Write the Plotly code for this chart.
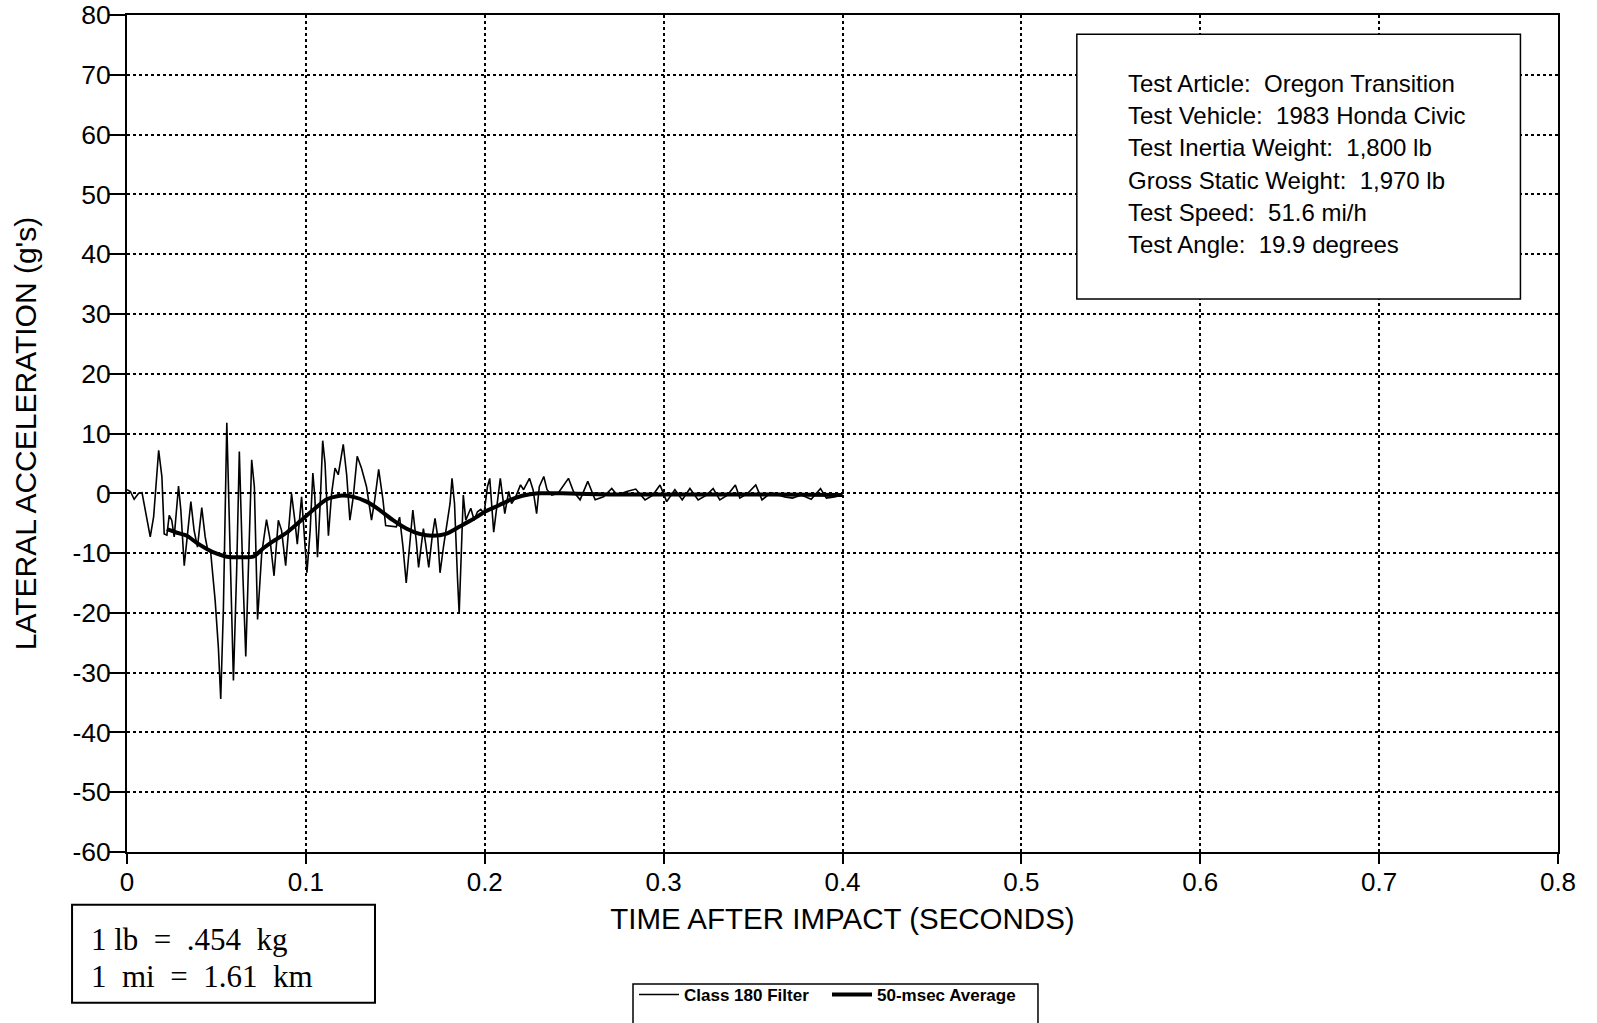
import plotly.graph_objects as go

# ---------------- data ----------------
filter_t = [0.0000, 0.0019, 0.0040, 0.0065, 0.0084, 0.0112, 0.0130, 0.0149, 0.0177, 0.0195,
            0.0208, 0.0223, 0.0236, 0.0250, 0.0264, 0.0288, 0.0301, 0.0320, 0.0335, 0.0357,
            0.0375, 0.0394, 0.0418, 0.0437, 0.0450, 0.0468, 0.0493, 0.0511, 0.0524, 0.0539,
            0.0558, 0.0576, 0.0595, 0.0613, 0.0628, 0.0647, 0.0664, 0.0680, 0.0697, 0.0712,
            0.0730, 0.0753, 0.0780, 0.0799, 0.0822, 0.0846, 0.0864, 0.0887, 0.0920, 0.0938,
            0.0952, 0.0976, 0.1006, 0.1024, 0.1039, 0.1050, 0.1065, 0.1080, 0.1094, 0.1107,
            0.1126, 0.1144, 0.1163, 0.1181, 0.1209, 0.1228, 0.1246, 0.1265, 0.1287, 0.1311,
            0.1339, 0.1367, 0.1385, 0.1407, 0.1431, 0.1446, 0.1469, 0.1506, 0.1524, 0.1543,
            0.1561, 0.1580, 0.1598, 0.1617, 0.1630, 0.1644, 0.1657, 0.1670, 0.1687, 0.1706,
            0.1722, 0.1737, 0.1750, 0.1769, 0.1787, 0.1806, 0.1817, 0.1831, 0.1848, 0.1857,
            0.1872, 0.1880, 0.1894, 0.1922, 0.1941, 0.1959, 0.1978, 0.1996, 0.2015, 0.2028,
            0.2050, 0.2087, 0.2112, 0.2134, 0.2150, 0.2170, 0.2200, 0.2217, 0.2250, 0.2270,
            0.2290, 0.2305, 0.2330, 0.2348, 0.2375, 0.2410, 0.2468, 0.2496, 0.2533, 0.2576,
            0.2617, 0.2664, 0.2710, 0.2740, 0.2794, 0.2844, 0.2896, 0.2940, 0.2980, 0.3017,
            0.3063, 0.3104, 0.3147, 0.3193, 0.3240, 0.3277, 0.3314, 0.3357, 0.3401, 0.3426,
            0.3470, 0.3515, 0.3550, 0.3600, 0.3677, 0.3720, 0.3770, 0.3825, 0.3877, 0.3910,
            0.3955, 0.4000]
filter_g = [0.6, 0.3, -1.0, 0.0, 0.1, -4.5, -7.3, -3.9, 7.2, 2.8,
            -6.8, -7.0, -3.7, -4.5, -7.3, 1.2, -2.8, -12.1, -7.9, -1.4,
            -6.2, -9.0, -2.4, -7.3, -9.3, -9.9, -18.0, -25.9, -34.4, -19.2,
            11.8, -10.1, -31.3, -13.0, 7.0, -13.0, -27.3, -11.3, 5.6, 1.1,
            -21.1, -10.1, -4.4, -7.6, -13.8, -4.5, -6.2, -12.1, -0.1, -4.5,
            -8.5, -0.6, -13.3, -6.2, 3.4, -0.6, -10.7, -1.7, 8.8, 5.1,
            -7.1, 0.0, 4.2, 3.1, 8.2, 3.1, -4.5, -0.6, 6.2, 4.2,
            1.1, -4.5, -1.1, 4.0, -1.1, -5.4, -5.5, -5.6, -4.0, -9.0,
            -15.0, -9.0, -2.8, -7.9, -12.4, -9.0, -5.9, -8.5, -12.4, -7.3,
            -4.2, -7.3, -13.3, -9.0, -5.6, -1.7, 2.5, -1.7, -14.4, -20.1,
            -7.3, -0.3, -4.5, -2.5, -4.5, -3.1, -2.7, -3.4, 1.1, 2.5,
            -6.5, 2.5, -3.4, 0.3, -1.7, -0.8, 1.4, 0.6, 2.5, 0.6,
            -3.4, 1.1, 2.8, 0.6, -0.3, 0.0, 2.5, 0.3, -1.1, 2.0,
            -1.1, -0.6, 0.8, -0.3, 0.3, 0.7, -1.1, -0.3, 1.4, -1.4,
            0.6, -1.1, 0.8, -1.1, -0.3, 0.8, -1.1, -0.3, 1.4, -0.8,
            0.0, 1.4, -1.1, 0.1, -0.6, -0.8, -0.3, -1.0, 0.8, -0.8,
            -0.6, -0.3]

avg_t = [0.0223, 0.0279, 0.0335, 0.0390, 0.0446, 0.0502, 0.0558, 0.0632, 0.0706, 0.0762,
         0.0818, 0.0892, 0.0967, 0.1040, 0.1117, 0.1190, 0.1265, 0.1339, 0.1413, 0.1487,
         0.1561, 0.1635, 0.1709, 0.1783, 0.1857, 0.1931, 0.2006, 0.2080, 0.2150, 0.2210,
         0.2300, 0.2430, 0.2700, 0.3000, 0.3300, 0.3600, 0.4000]
avg_g = [-6.0, -6.6, -7.1, -8.3, -9.3, -10.1, -10.6, -10.7, -10.6, -9.2,
         -8.0, -6.6, -4.7, -2.8, -1.0, -0.4, -0.6, -1.4, -2.8, -4.5,
         -5.9, -6.8, -7.1, -6.8, -5.6, -4.4, -3.0, -2.0, -1.0, -0.4,
         0.0, 0.0, -0.2, -0.2, -0.2, -0.2, -0.3]

series_names = ["Class 180 Filter", "50-msec Average"]

x_ticks = [0, 0.1, 0.2, 0.3, 0.4, 0.5, 0.6, 0.7, 0.8]
x_tick_labels = ["0", "0.1", "0.2", "0.3", "0.4", "0.5", "0.6", "0.7", "0.8"]
y_ticks = [-60, -50, -40, -30, -20, -10, 0, 10, 20, 30, 40, 50, 60, 70, 80]
y_tick_labels = ["-60", "-50", "-40", "-30", "-20", "-10", "0", "10", "20", "30", "40",
                 "50", "60", "70", "80"]

info_lines = [
    "Test Article:\u00a0 Oregon Transition",
    "Test Vehicle:\u00a0 1983 Honda Civic",
    "Test Inertia Weight:\u00a0 1,800 lb",
    "Gross Static Weight:\u00a0 1,970 lb",
    "Test Speed:\u00a0 51.6 mi/h",
    "Test Angle:\u00a0 19.9 degrees",
]
conversion_lines = [
    "1 lb \u00a0=\u00a0 .454\u00a0 kg",
    "1\u00a0 mi \u00a0=\u00a0 1.61\u00a0 km",
]

x_title = "TIME AFTER IMPACT (SECONDS)"
y_title = "LATERAL ACCELERATION (g's)"

SANS = "Arial, 'Liberation Sans', Helvetica, sans-serif"
SERIF = "'Times New Roman', 'Liberation Serif', Times, serif"

# ---------------- figure ----------------
fig = go.Figure()
fig.add_trace(go.Scatter(x=filter_t, y=filter_g, mode="lines", name=series_names[0],
                         line=dict(color="black", width=1.6)))
fig.add_trace(go.Scatter(x=avg_t, y=avg_g, mode="lines", name=series_names[1],
                         line=dict(color="black", width=4, shape="spline", smoothing=0.6)))

axis_common = dict(
    showgrid=True, gridcolor="black", griddash="dot", gridwidth=1.5,
    showline=True, linecolor="black", linewidth=2, mirror=True,
    ticks="outside", tickcolor="black", tickwidth=1.5,
    zeroline=False, color="black", automargin=False, ticklabeloverflow="allow",
)

fig.update_xaxes(range=[0, 0.8], tickvals=x_ticks, ticktext=x_tick_labels,
                 ticklen=10, ticklabelstandoff=-4,
                 tickfont=dict(family=SANS, size=26, color="black"),
                 title=dict(text=x_title, font=dict(family=SANS, size=29.5, color="black"), standoff=12),
                 **axis_common)
fig.update_yaxes(range=[-60, 80], tickvals=y_ticks, ticktext=y_tick_labels, ticklen=16,
                 ticklabelstandoff=-7,
                 tickfont=dict(family=SANS, size=26.5, color="black"),
                 title=dict(text=y_title, font=dict(family=SANS, size=30, color="black"), standoff=27),
                 **axis_common)

# info box (upper right) in data coordinates
fig.add_shape(type="rect", xref="x", yref="y", x0=0.531, x1=0.779, y0=32.5, y1=76.8,
              line=dict(color="black", width=1.5), fillcolor="white", layer="above")
line_y0 = 68.6
line_step = 5.4
for i, txt in enumerate(info_lines):
    fig.add_annotation(x=0.5585, y=line_y0 - i * line_step, xref="x", yref="y",
                       text=txt, showarrow=False, xanchor="left", yanchor="middle",
                       font=dict(family=SANS, size=24, color="black"))

# conversion box (lower left) in paper coordinates
fig.add_shape(type="rect", xref="paper", yref="paper", x0=-0.0384, x1=0.1733, y0=-0.0630, y1=-0.1800,
              line=dict(color="black", width=2), fillcolor="white")
conv_y = [-0.1040, -0.1485]
for txt, yy in zip(conversion_lines, conv_y):
    fig.add_annotation(x=-0.0265, y=yy, xref="paper", yref="paper", text=txt, showarrow=False,
                       xanchor="left", yanchor="middle",
                       font=dict(family=SERIF, size=31, color="black"))

# legend frame (runs off the bottom of the page, as in the reference)
fig.add_shape(type="rect", xref="paper", yref="paper", x0=0.3536, x1=0.6366, y0=-0.1577, y1=-0.22,
              line=dict(color="black", width=1.5), fillcolor="white")

fig.update_layout(
    width=1597, height=1023,
    margin=dict(l=127, r=39, t=15, b=171),
    plot_bgcolor="white", paper_bgcolor="white",
    showlegend=True,
    legend=dict(orientation="h", xref="container", yref="container",
                x=0.3970, xanchor="left", y=0.0450, yanchor="top",
                borderwidth=0, bgcolor="rgba(0,0,0,0)",
                font=dict(family=SANS, size=17, color="black", weight="bold"),
                itemwidth=40, entrywidth=138, traceorder="normal"),
)

fig.write_html("out.html",
               config={"displayModeBar": False},
               post_script="document.body.style.margin='0px'; document.body.style.overflow='hidden';")
